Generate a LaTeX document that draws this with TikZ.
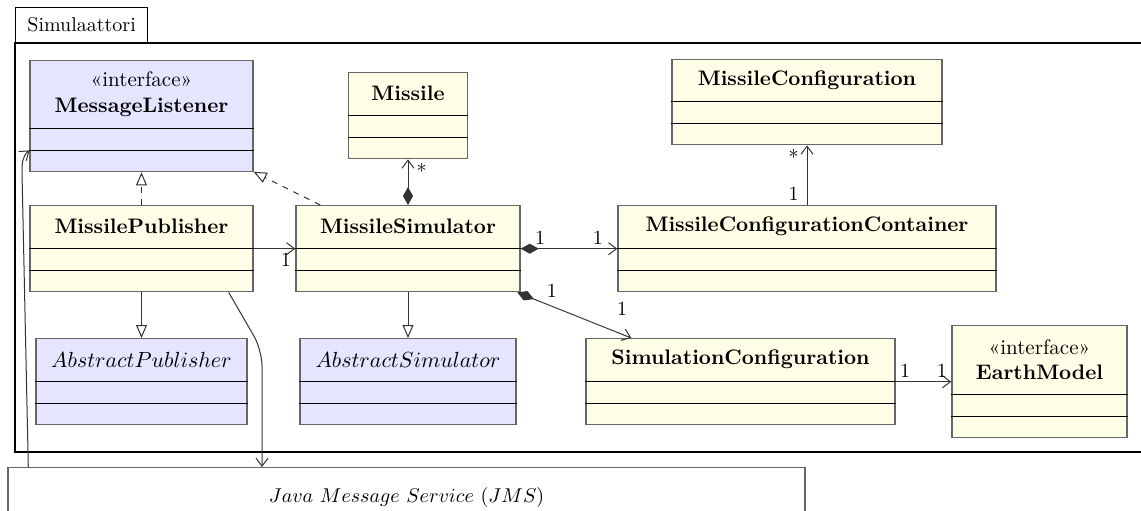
\documentclass[tikz,border=0pt]{standalone}
\usepackage{amsmath,amssymb}
\usepackage{tikz}
\usetikzlibrary{arrows.meta,calc}

\colorlet{classfill}{yellow!10}
\colorlet{ifacefill}{blue!10}

\tikzset{
  umlclass/.style={draw=black!60, line width=0.7pt, inner sep=0pt, anchor=north},
  classname/.style={inner sep=0pt, align=center, font=\fontsize{10.5}{12.6}\selectfont},
  assoc/.style={draw=black!80, line width=0.5pt, -{Straight Barb[length=4pt,width=6pt]}},
  compo/.style={draw=black!80, line width=0.5pt, {Diamond[length=9pt,width=5pt]}-{Straight Barb[length=4pt,width=6pt]}},
  inherit/.style={draw=black!80, line width=0.5pt, -{Triangle[open,length=6.5pt,width=5.5pt]}},
  realize/.style={inherit, dashed},
  mult/.style={inner sep=2pt}
}

\begin{document}
\begin{tikzpicture}[x=0.5pt,y=-0.5pt]
\useasboundingbox (0,0) rectangle (1141,510);
\clip (0,0) rectangle (1141,510);

\node[draw, line width=0.6pt, anchor=south west, minimum width=132*0.5pt, minimum height=35*0.5pt, inner sep=0pt] (pkg) at (15,43) {Simulaattori};
\draw[line width=0.6pt] (pkg.south west) rectangle (1200,452);

\foreach \n/\cx/\top/\w/\h/\f/\t in {
  lis/141.5/60/223/111/ifacefill/{«interface»\\\textbf{MessageListener}},
  pub/141.5/205/223/86/classfill/{\textbf{MissilePublisher}},
  apub/141.5/338/211/86/ifacefill/{$AbstractPublisher$},
  mis/408/72/119/86/classfill/{\textbf{Missile}},
  sim/408/205/224/86/classfill/{\textbf{MissileSimulator}},
  asim/408/338/216/86/ifacefill/{$AbstractSimulator$},
  mcfg/807/59/270/85/classfill/{\textbf{MissileConfiguration}},
  mcc/807/205/378/86/classfill/{\textbf{MissileConfigurationContainer}},
  scfg/740.5/338/309/86/classfill/{\textbf{SimulationConfiguration}},
  earth/1039.5/325/175/112/classfill/{«interface»\\\textbf{EarthModel}}}{
\node[umlclass, fill=\f, minimum width=\w*0.5pt, minimum height=\h*0.5pt] (\n) at (\cx,\top) {};
\draw ([yshift=11pt]\n.south west) -- ([yshift=11pt]\n.south east);
\draw ([yshift=22pt]\n.south west) -- ([yshift=22pt]\n.south east);
\node[classname] (\n-name) at ($(\n.north)!0.5!([yshift=22pt]\n.south)$) {\t};
}

\node[draw=black!60, line width=0.7pt, anchor=north, minimum width=797*0.5pt, minimum height=60*0.5pt, inner sep=0pt] (jms) at (406.5,467) {$Java\ Message\ Service\ (JMS)$};

\draw[realize] (pub) -- (lis);
\draw[realize] (sim) -- (lis);
\draw[inherit] (pub) -- (apub);
\draw[inherit] (sim) -- (asim);

\draw[assoc] (pub) -- (sim) node[pos=1, below left, mult] {1};
\draw[compo] (sim) -- (mis) node[pos=1, below right, mult, xshift=2pt] {*};
\draw[compo] (sim) -- (mcc) node[pos=0.2, above, mult] {1} node[pos=0.8, above, mult] {1};
\draw[compo] (sim) -- (scfg) node[pos=0.22, above right, mult] {1} node[pos=0.92, above=7pt, mult] {1};
\draw[assoc] (mcc) -- (mcfg) node[pos=0, above left, mult, xshift=-2pt] {1} node[pos=1, below left, mult, xshift=-2pt] {*};
\draw[assoc] (scfg) -- (earth) node[pos=0, above right, mult] {1} node[pos=1, above left, mult] {1};

\coordinate (bend) at (262,350);
\coordinate (rise) at (22,172);
\draw[assoc, rounded corners=8pt] ([xshift=-12.5pt]pub.south east) -- (bend) -- (bend |- jms.north);
\draw[assoc] ([xshift=10.5pt]jms.north west) -- (rise) to[out=90,in=220] ([yshift=11pt]lis.south west);
\end{tikzpicture}
\end{document}
